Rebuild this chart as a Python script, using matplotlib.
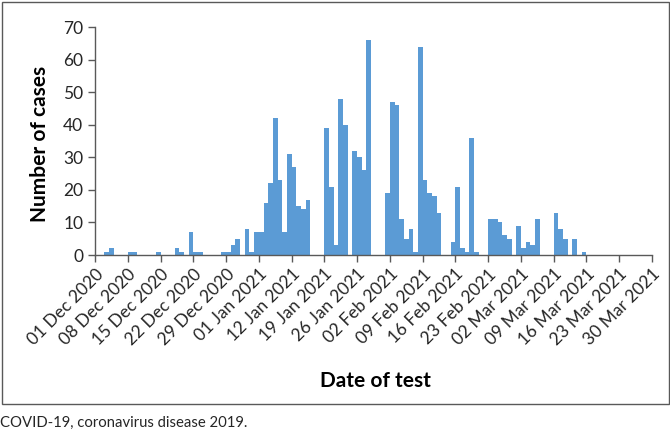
import matplotlib.pyplot as plt
from matplotlib.patches import Rectangle

# daily counts, 01 Dec 2020 onwards (one value per day)
cases = [0, 0, 1, 2, 0, 0, 0, 1, 1, 0,
         0, 0, 0, 1, 0, 0, 0, 2, 1, 0,
         7, 1, 1, 0, 0, 0, 0, 1, 1, 3,
         5, 0, 8, 1, 7, 7, 16, 22, 42, 23,
         7, 31, 27, 15, 14, 17, 0, 0, 0, 39,
         21, 3, 48, 40, 0, 32, 30, 26, 66, 0,
         0, 0, 19, 47, 46, 11, 5, 8, 1, 64,
         23, 19, 18, 13, 0, 0, 4, 21, 2, 1,
         36, 1, 0, 0, 11, 11, 10, 6, 5, 0,
         9, 2, 4, 3, 11, 0, 0, 0, 13, 8,
         5, 0, 5, 0, 1, 0, 0, 0, 0, 0,
         0, 0, 0, 0, 0, 0, 0, 0, 0]

tick_labels = ["01 Dec 2020", "08 Dec 2020", "15 Dec 2020", "22 Dec 2020",
               "29 Dec 2020", "01 Jan 2021", "12 Jan 2021", "19 Jan 2021",
               "26 Jan 2021", "02 Feb 2021", "09 Feb 2021", "16 Feb 2021",
               "23 Feb 2021", "02 Mar 2021", "09 Mar 2021", "16 Mar 2021",
               "23 Mar 2021", "30 Mar 2021"]

plt.rcParams['font.family'] = ['Lato', 'DejaVu Sans']

fig = plt.figure(figsize=(6.7, 4.37), dpi=100)
ax = fig.add_axes([95 / 670, 1 - 255 / 437, 557 / 670, 228 / 437])

days = range(len(cases))
ax.bar([d + 0.5 for d in days], cases, width=1.0, color='#5b9bd5', linewidth=0)

ax.set_xlim(0, 7 * (len(tick_labels) - 1))
ax.set_ylim(0, 70)
ax.set_yticks(range(0, 71, 10))
ax.set_xticks([7 * i for i in range(len(tick_labels))])
ax.set_xticklabels(tick_labels, rotation=45, ha='right', rotation_mode='anchor')

for s in ['top', 'right']:
    ax.spines[s].set_visible(False)
for s in ['left', 'bottom']:
    ax.spines[s].set_color('#595959')
    ax.spines[s].set_linewidth(1.0)
ax.tick_params(axis='both', colors='#595959', labelcolor='#262626',
               labelsize=12.5, length=5, width=1.0)
ax.tick_params(axis='x', pad=3)

ax.set_ylabel('Number of cases', fontsize=15, fontweight='bold')
ax.set_xlabel('Date of test', fontsize=15, fontweight='bold')
ax.yaxis.set_label_coords(-0.081, 0.487)
ax.xaxis.set_label_coords(0.503, -0.509)

fig.patches.append(Rectangle((2 / 670, 1 - 404 / 437), 667 / 670, 402 / 437,
                             transform=fig.transFigure, fill=False,
                             edgecolor='#595959', linewidth=1.0))
fig.text(0.0, 1 - 423 / 437, 'COVID-19, coronavirus disease 2019.',
         fontsize=10.7, va='center', ha='left', color='#262626')

fig.savefig('out.png', dpi=100)
